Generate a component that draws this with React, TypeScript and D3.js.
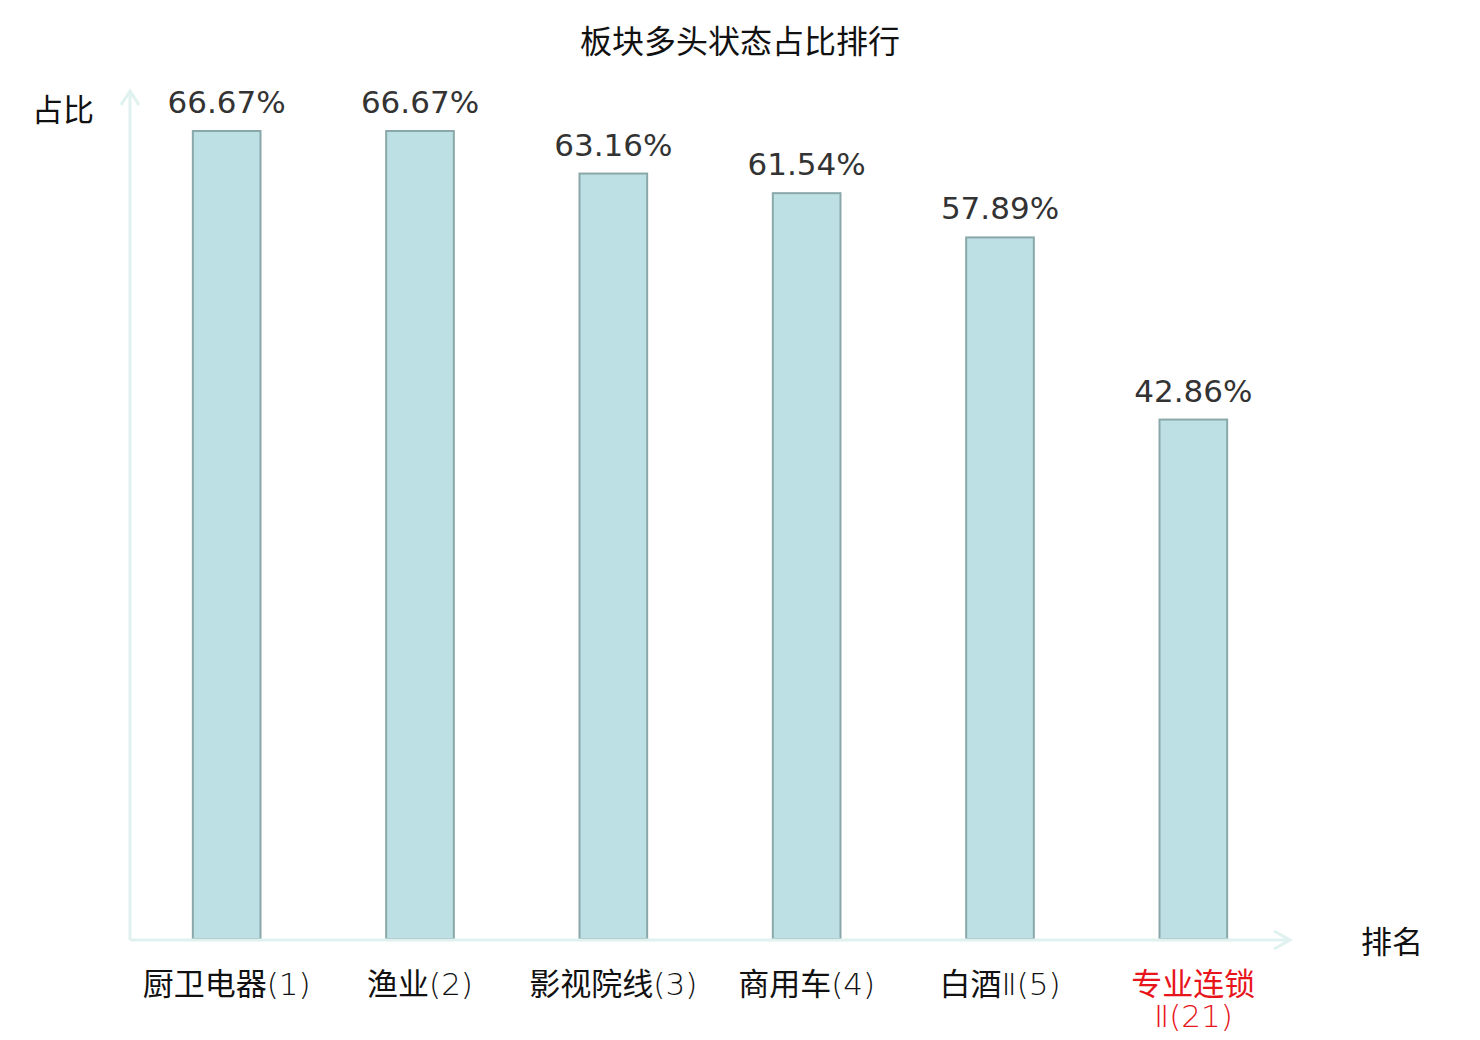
import React, { useEffect, useRef } from 'react';
import * as d3 from 'd3';

const svgWidth = 1480;
const svgHeight = 1040;

// 板块名称与排名
const categories = ['厨卫电器', '渔业', '影视院线', '商用车', '白酒Ⅱ', '专业连锁Ⅱ'];
const ranks = [1, 2, 3, 4, 5, 21];
// 多头状态占比（%）
const values = [66.67, 66.67, 63.16, 61.54, 57.89, 42.86];
// 需要高亮（红色）的板块
const highlighted = [false, false, false, false, false, true];
// 换行显示的标签
const labelLines: string[][] = [
  ['厨卫电器(1)'],
  ['渔业(2)'],
  ['影视院线(3)'],
  ['商用车(4)'],
  ['白酒Ⅱ(5)'],
  ['专业连锁', 'Ⅱ(21)'],
];

const font = '"DejaVu Sans", "Noto Sans CJK SC", sans-serif';

// 把一行拆成汉字段和其它字符段（其它字符用细体）
const splitRuns = (s: string) => s.match(/[\u4e00-\u9fff]+|[^\u4e00-\u9fff]+/g) ?? [];

const App: React.FC = () => {
  const svgRef = useRef<SVGSVGElement | null>(null);

  useEffect(() => {
    const svg = d3.select(svgRef.current);
    svg.selectAll('*').remove();

    const left = 130;
    const right = 1290;
    const bottom = 939;

    const xScale = d3
      .scaleBand<string>()
      .domain(categories)
      .range([left, right])
      .paddingInner(0.65)
      .paddingOuter(0.325);

    const yScale = d3.scaleLinear().domain([0, 66.67]).range([bottom, 131]);

    const axisColor = '#dff2ef';

    // 标题
    svg
      .append('text')
      .attr('x', 740)
      .attr('y', 53)
      .attr('text-anchor', 'middle')
      .attr('font-size', 32)
      .attr('fill', '#111')
      .text('板块多头状态占比排行');

    // 柱子
    svg
      .append('g')
      .selectAll('rect')
      .data(values)
      .join('rect')
      .attr('x', (_, i) => xScale(categories[i])!)
      .attr('y', (d) => yScale(d))
      .attr('width', xScale.bandwidth())
      .attr('height', (d) => bottom - yScale(d))
      .attr('fill', '#bce0e3')
      .attr('stroke', '#8aa8a9')
      .attr('stroke-width', 2);

    // 数值标签
    svg
      .append('g')
      .selectAll('text')
      .data(values)
      .join('text')
      .attr('x', (_, i) => xScale(categories[i])! + xScale.bandwidth() / 2)
      .attr('y', (d) => yScale(d) - 18)
      .attr('text-anchor', 'middle')
      .attr('font-size', 31)
      .attr('fill', '#333')
      .text((d) => d.toFixed(2) + '%');

    // Y轴
    svg
      .append('line')
      .attr('x1', left)
      .attr('y1', bottom + 1)
      .attr('x2', left)
      .attr('y2', 91)
      .attr('stroke', axisColor)
      .attr('stroke-width', 3);
    svg
      .append('path')
      .attr('d', `M${left - 9},${105} L${left},${91} L${left + 9},${105}`)
      .attr('fill', 'none')
      .attr('stroke', axisColor)
      .attr('stroke-width', 3);

    // X轴
    svg
      .append('line')
      .attr('x1', left)
      .attr('y1', bottom + 1)
      .attr('x2', right)
      .attr('y2', bottom + 1)
      .attr('stroke', axisColor)
      .attr('stroke-width', 3);
    svg
      .append('path')
      .attr('d', `M${right - 16},${bottom - 8} L${right},${bottom + 1} L${right - 16},${bottom + 10}`)
      .attr('fill', 'none')
      .attr('stroke', axisColor)
      .attr('stroke-width', 3);

    // 轴名称
    svg
      .append('text')
      .attr('x', 63)
      .attr('y', 121)
      .attr('text-anchor', 'middle')
      .attr('font-size', 31)
      .attr('fill', '#111')
      .text('占比');
    svg
      .append('text')
      .attr('x', 1392)
      .attr('y', 953)
      .attr('text-anchor', 'middle')
      .attr('font-size', 31)
      .attr('fill', '#111')
      .text('排名');

    // 类目标签
    categories.forEach((c, i) => {
      const cx = xScale(c)! + xScale.bandwidth() / 2;
      labelLines[i].forEach((line, j) => {
        const t = svg
          .append('text')
          .attr('x', cx)
          .attr('y', 995 + j * 32)
          .attr('text-anchor', 'middle')
          .attr('font-size', 31)
          .attr('fill', highlighted[i] ? '#e8141b' : '#111')
          .attr('data-rank', ranks[i]);
        splitRuns(line).forEach((run) => {
          const isCjk = /[\u4e00-\u9fff]/.test(run);
          t.append('tspan')
            .attr('font-weight', isCjk ? 400 : 200)
            .text(run);
        });
      });
    });
  }, []);

  return (
    <svg
      ref={svgRef}
      width={svgWidth}
      height={svgHeight}
      style={{ position: 'absolute', left: 0, top: 0, fontFamily: font, background: '#fff' }}
    />
  );
};

export default App;
